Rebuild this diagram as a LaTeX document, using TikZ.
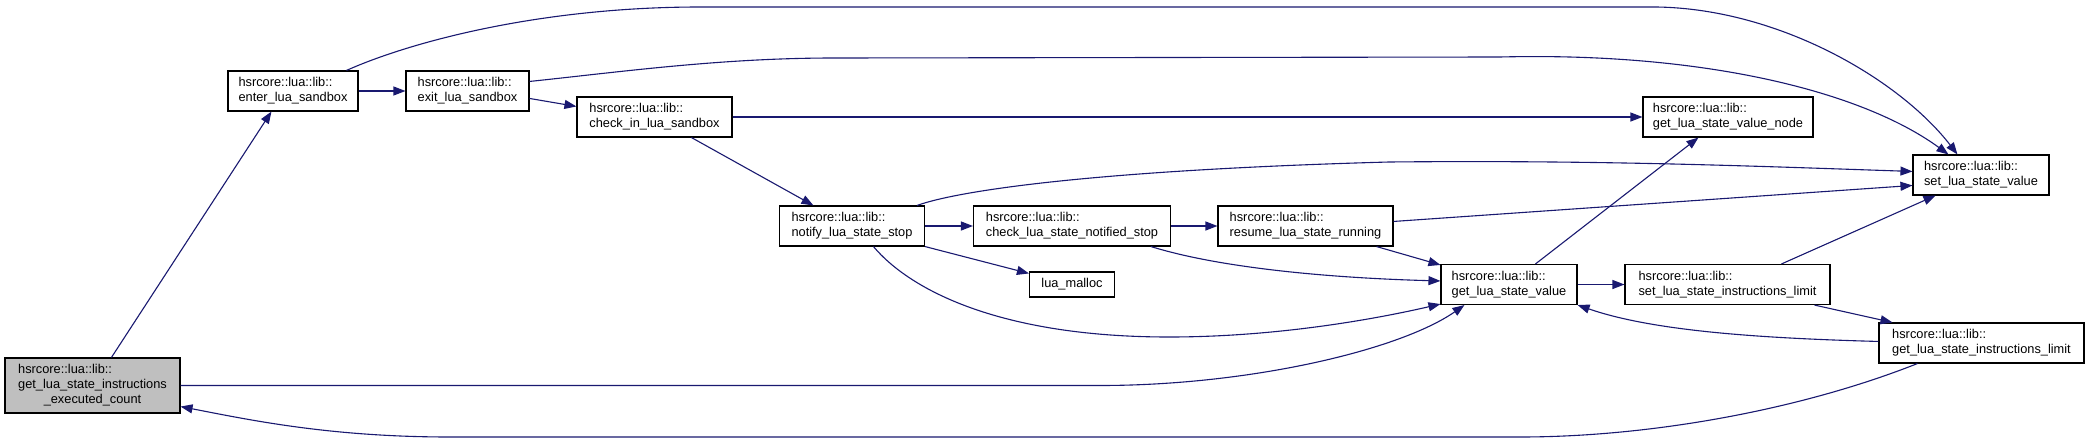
\documentclass[tikz,border=0pt]{standalone}
\usepackage{fontspec}
\setmainfont{Liberation Sans}
\usetikzlibrary{arrows.meta,calc}
\definecolor{edgeblue}{HTML}{191970}
\definecolor{nodegray}{HTML}{BFBFBF}
\begin{document}
\begin{tikzpicture}[x=1pt,y=-1pt,font=\fontsize{12.8}{15}\selectfont,
  fn/.style={draw=black,line width=1.1pt,fill=white,align=left,inner sep=0pt,minimum height=40pt},
  call/.style={draw=edgeblue,line width=1.1pt,-{Triangle[length=12pt,width=9pt]}}]
\fill[white] (0,0) rectangle (2089,442);
\useasboundingbox (0,0) rectangle (2089,442);
% nodes
\node[fn,fill=nodegray,minimum width=175pt,minimum height=55pt] (main) at (92.5,385.5)
  {\begin{tabular}{@{}l@{}}hsrcore::lua::lib::\\get\_lua\_state\_instructions\\\multicolumn{1}{@{}c@{}}{\_executed\_count}\end{tabular}};
\node[fn,minimum width=130pt] (enter) at (293,91) {hsrcore::lua::lib::\\enter\_lua\_sandbox};
\node[fn,minimum width=123pt] (exit) at (467.5,91) {hsrcore::lua::lib::\\exit\_lua\_sandbox};
\node[fn,minimum width=155pt] (chkin) at (654.5,117) {hsrcore::lua::lib::\\check\_in\_lua\_sandbox};
\node[fn,minimum width=145pt] (notify) at (852,226) {hsrcore::lua::lib::\\notify\_lua\_state\_stop};
\node[fn,minimum width=197pt] (cn) at (1072,226) {hsrcore::lua::lib::\\check\_lua\_state\_notified\_stop};
\node[fn,minimum width=175pt] (resume) at (1305.5,226) {hsrcore::lua::lib::\\resume\_lua\_state\_running};
\node[fn,minimum width=85pt,minimum height=25pt] (malloc) at (1072,284.5) {lua\_malloc};
\node[fn,minimum width=170pt] (gvn) at (1728,117) {hsrcore::lua::lib::\\get\_lua\_state\_value\_node};
\node[fn,minimum width=136pt] (sv) at (1981,175) {hsrcore::lua::lib::\\set\_lua\_state\_value};
\node[fn,minimum width=136pt] (gv) at (1509,284.5) {hsrcore::lua::lib::\\get\_lua\_state\_value};
\node[fn,minimum width=205pt] (sl) at (1727.5,284.5) {hsrcore::lua::lib::\\set\_lua\_state\_instructions\_limit};
\node[fn,minimum width=205pt] (gl) at (1981.5,343) {hsrcore::lua::lib::\\get\_lua\_state\_instructions\_limit};
% edges
\draw[call] ($(main.north west)+(107,0)$) -- ($(enter.south west)+(44,0)$);
\draw[call] (enter.east) -- (exit.west);
\draw[call] ($(enter.north west)+(119,0)$) .. controls (410,42) and (540,7) .. (700,7)
  -- (1657,7) .. controls (1780,9) and (1900,80) .. ($(sv.north west)+(45,0)$);
\draw[call] ($(exit.north east)+(0,11)$) .. controls (620,72) and (720,58) .. (834,58)
  -- (1500,57) .. controls (1700,52) and (1860,90) .. ($(sv.north west)+(36,0)$);
\draw[call] ($(exit.north east)+(0,28)$) -- ($(chkin.north west)+(0,10)$);
\draw[call] (chkin.east) -- (gvn.west);
\draw[call] ($(chkin.south west)+(115,0)$) -- ($(notify.north west)+(34.5,0)$);
\draw[call] ($(notify.north east)+(-8,0)$) .. controls (960,190) and (1100,170) .. (1389,162)
  .. controls (1600,160) and (1750,166) .. ($(sv.north west)+(0,17)$);
\draw[call] (notify.east) -- (cn.west);
\draw[call] (notify.south east) -- ($(malloc.north west)+(0,2)$);
\draw[call] ($(notify.south west)+(94.5,0)$) .. controls (910,290) and (1000,337) .. (1169,337)
  .. controls (1280,337) and (1380,318) .. ($(gv.south west)+(0,-1)$);
\draw[call] (main.east) -- (1100,385.5) .. controls (1250,385.5) and (1400,350) .. ($(gv.south west)+(24,0)$);
\draw[call] (cn.east) -- (resume.west);
\draw[call] ($(cn.south west)+(178,0)$) .. controls (1220,268) and (1330,278) .. ($(gv.north west)+(0,17)$);
\draw[call] ($(resume.south east)+(-17,0)$) -- ($(gv.north west)+(0,1)$);
\draw[call] ($(resume.north east)+(0,16)$) -- ($(sv.north west)+(0,31)$);
\draw[call] ($(gv.north west)+(95,0)$) -- ($(gvn.south west)+(56,0)$);
\draw[call] (gv.east) -- (sl.west);
\draw[call] ($(sl.north west)+(157,0)$) -- ($(sv.south west)+(23,0)$);
\draw[call] ($(sl.south west)+(190,0)$) -- ($(gl.north west)+(14,0)$);
\draw[call] ($(gl.north west)+(0,19)$) .. controls (1750,338) and (1650,330) .. (gv.south east);
\draw[call] ($(gl.south west)+(39,0)$) .. controls (1800,410) and (1650,437) .. (1520,437)
  -- (450,437) .. controls (330,437) and (250,420) .. ($(main.south east)+(0,-7)$);
\end{tikzpicture}
\end{document}
